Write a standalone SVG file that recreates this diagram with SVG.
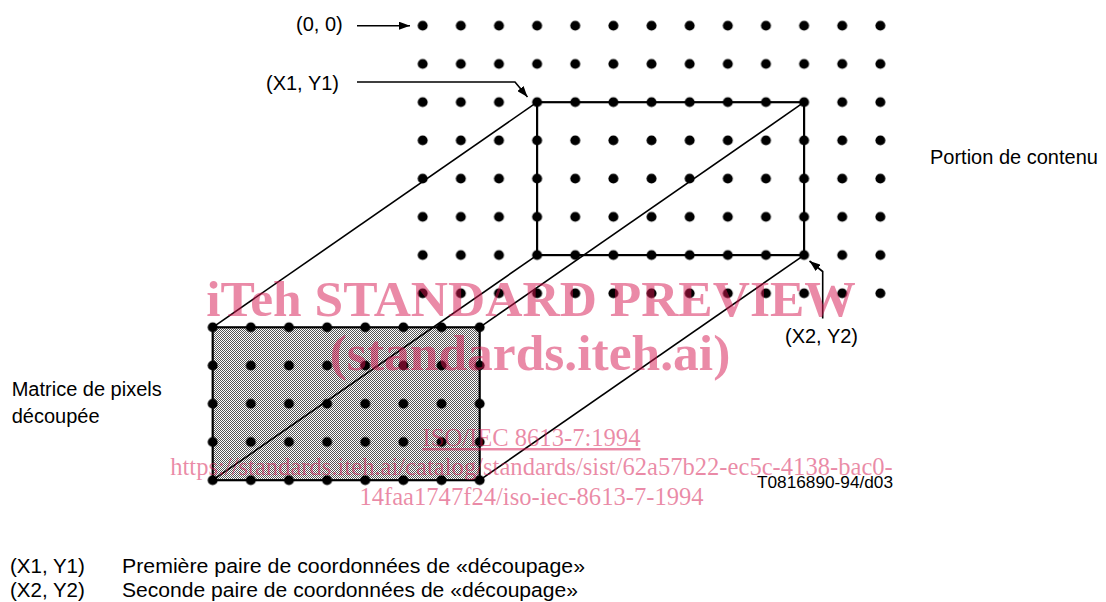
<svg xmlns="http://www.w3.org/2000/svg" width="1106" height="602" viewBox="0 0 1106 602">
  <style>
    .lbl { font-family: "Liberation Sans", Arial, sans-serif; font-size: 20px; fill: #000; }
    .leg { font-family: "Liberation Sans", Arial, sans-serif; font-size: 20.5px; fill: #000; }
    .code { font-family: "Liberation Sans", Arial, sans-serif; font-size: 16px; fill: #000; }
    .edge { fill: none; stroke: #000; stroke-width: 1.6; }
    .arrow { fill: none; stroke: #000; stroke-width: 1.6; marker-end: url(#ah); }
    .frame { fill: none; stroke: #000; stroke-width: 2.2; }
    .wmb { font-family: "Liberation Serif", "Times New Roman", serif; font-weight: bold; font-size: 51.5px; fill: #d6154f; fill-opacity: 0.5; }
    .wms { font-family: "Liberation Serif", "Times New Roman", serif; font-size: 24.6px; fill: #d6154f; fill-opacity: 0.5; }
  </style>
  <defs>
    <marker id="ah" viewBox="0 0 11 8" refX="11" refY="4" markerWidth="11" markerHeight="8" markerUnits="userSpaceOnUse" orient="auto">
      <path d="M0,0 L11,4 L0,8 z" fill="#000"/>
    </marker>
    <pattern id="dotsA" patternUnits="userSpaceOnUse" x="403.63" y="6.585" width="38.14" height="38.23">
      <circle cx="19.07" cy="19.115" r="5" fill="#000"/>
    </pattern>
    <pattern id="dotsB" patternUnits="userSpaceOnUse" x="193.63" y="308.185" width="38.14" height="38.23">
      <circle cx="19.07" cy="19.115" r="5" fill="#000"/>
    </pattern>
    <pattern id="halftone" patternUnits="userSpaceOnUse" x="0" y="0" width="2" height="2">
      <rect width="2" height="2" fill="#fff"/>
      <rect x="0" y="0" width="1" height="1" fill="#555"/>
      <rect x="1" y="1" width="1" height="1" fill="#555"/>
    </pattern>
  </defs>
  <rect width="1106" height="602" fill="#fff"/>

  <g id="pixel-matrix-fill">
    <rect x="212.7" y="327.3" width="267" height="152.9" fill="url(#halftone)"/>
  </g>

  <g id="connectors">
    <line class="edge" x1="212.7" y1="327.3" x2="537.1" y2="102.2"/>
    <line class="edge" x1="479.7" y1="327.3" x2="804.1" y2="102.2"/>
    <line class="edge" x1="212.7" y1="480.2" x2="537.1" y2="255.1"/>
    <line class="edge" x1="479.7" y1="480.2" x2="804.1" y2="255.1"/>
    <path class="arrow" d="M357,25.7 H410"/>
    <path class="arrow" d="M357,82 H515 L527.5,97"/>
    <path class="arrow" d="M822.7,318.5 V271.5 L809.5,261"/>
  </g>

  <g id="content-grid">
    <rect x="403.63" y="6.585" width="495.82" height="305.84" fill="url(#dotsA)"/>
  </g>

  <g id="clip-rect">
    <rect class="frame" x="537.1" y="102.2" width="267" height="152.9"/>
  </g>

  <g id="pixel-matrix">
    <rect class="frame" x="212.7" y="327.3" width="267" height="152.9"/>
    <rect x="193.63" y="308.185" width="305.12" height="191.15" fill="url(#dotsB)"/>
  </g>

  <g id="label-origin"><text class="lbl" x="296" y="31">(0, 0)</text></g>
  <g id="label-x1y1"><text class="lbl" x="266" y="90">(X1, Y1)</text></g>
  <g id="label-x2y2"><text class="lbl" x="785" y="343">(X2, Y2)</text></g>
  <g id="label-portion"><text class="lbl" x="930" y="164">Portion de contenu</text></g>
  <g id="label-matrice">
    <text class="lbl" x="11.7" y="396">Matrice de pixels</text>
    <text class="lbl" x="11.7" y="423">découpée</text>
  </g>
  <g id="label-code"><text class="code" x="757" y="488" textLength="136" lengthAdjust="spacingAndGlyphs">T0816890-94/d03</text></g>

  <g id="legend">
    <text class="leg" x="10" y="573">(X1, Y1)</text>
    <text class="leg" x="122" y="573" textLength="463" lengthAdjust="spacingAndGlyphs">Première paire de coordonnées de «découpage»</text>
    <text class="leg" x="10" y="597">(X2, Y2)</text>
    <text class="leg" x="122" y="597" textLength="456" lengthAdjust="spacingAndGlyphs">Seconde paire de coordonnées de «découpage»</text>
  </g>

  <g id="watermark">
    <text class="wmb" x="531" y="316" text-anchor="middle">iTeh STANDARD PREVIEW</text>
    <text class="wmb" x="530" y="370" text-anchor="middle">(standards.iteh.ai)</text>
    <text class="wms" x="531.5" y="446" text-anchor="middle" text-decoration="underline">ISO/IEC 8613-7:1994</text>
    <text class="wms" x="531.5" y="475" text-anchor="middle">https://standards.iteh.ai/catalog/standards/sist/62a57b22-ec5c-4138-bac0-</text>
    <text class="wms" x="531.5" y="505" text-anchor="middle">14faa1747f24/iso-iec-8613-7-1994</text>
  </g>
</svg>
